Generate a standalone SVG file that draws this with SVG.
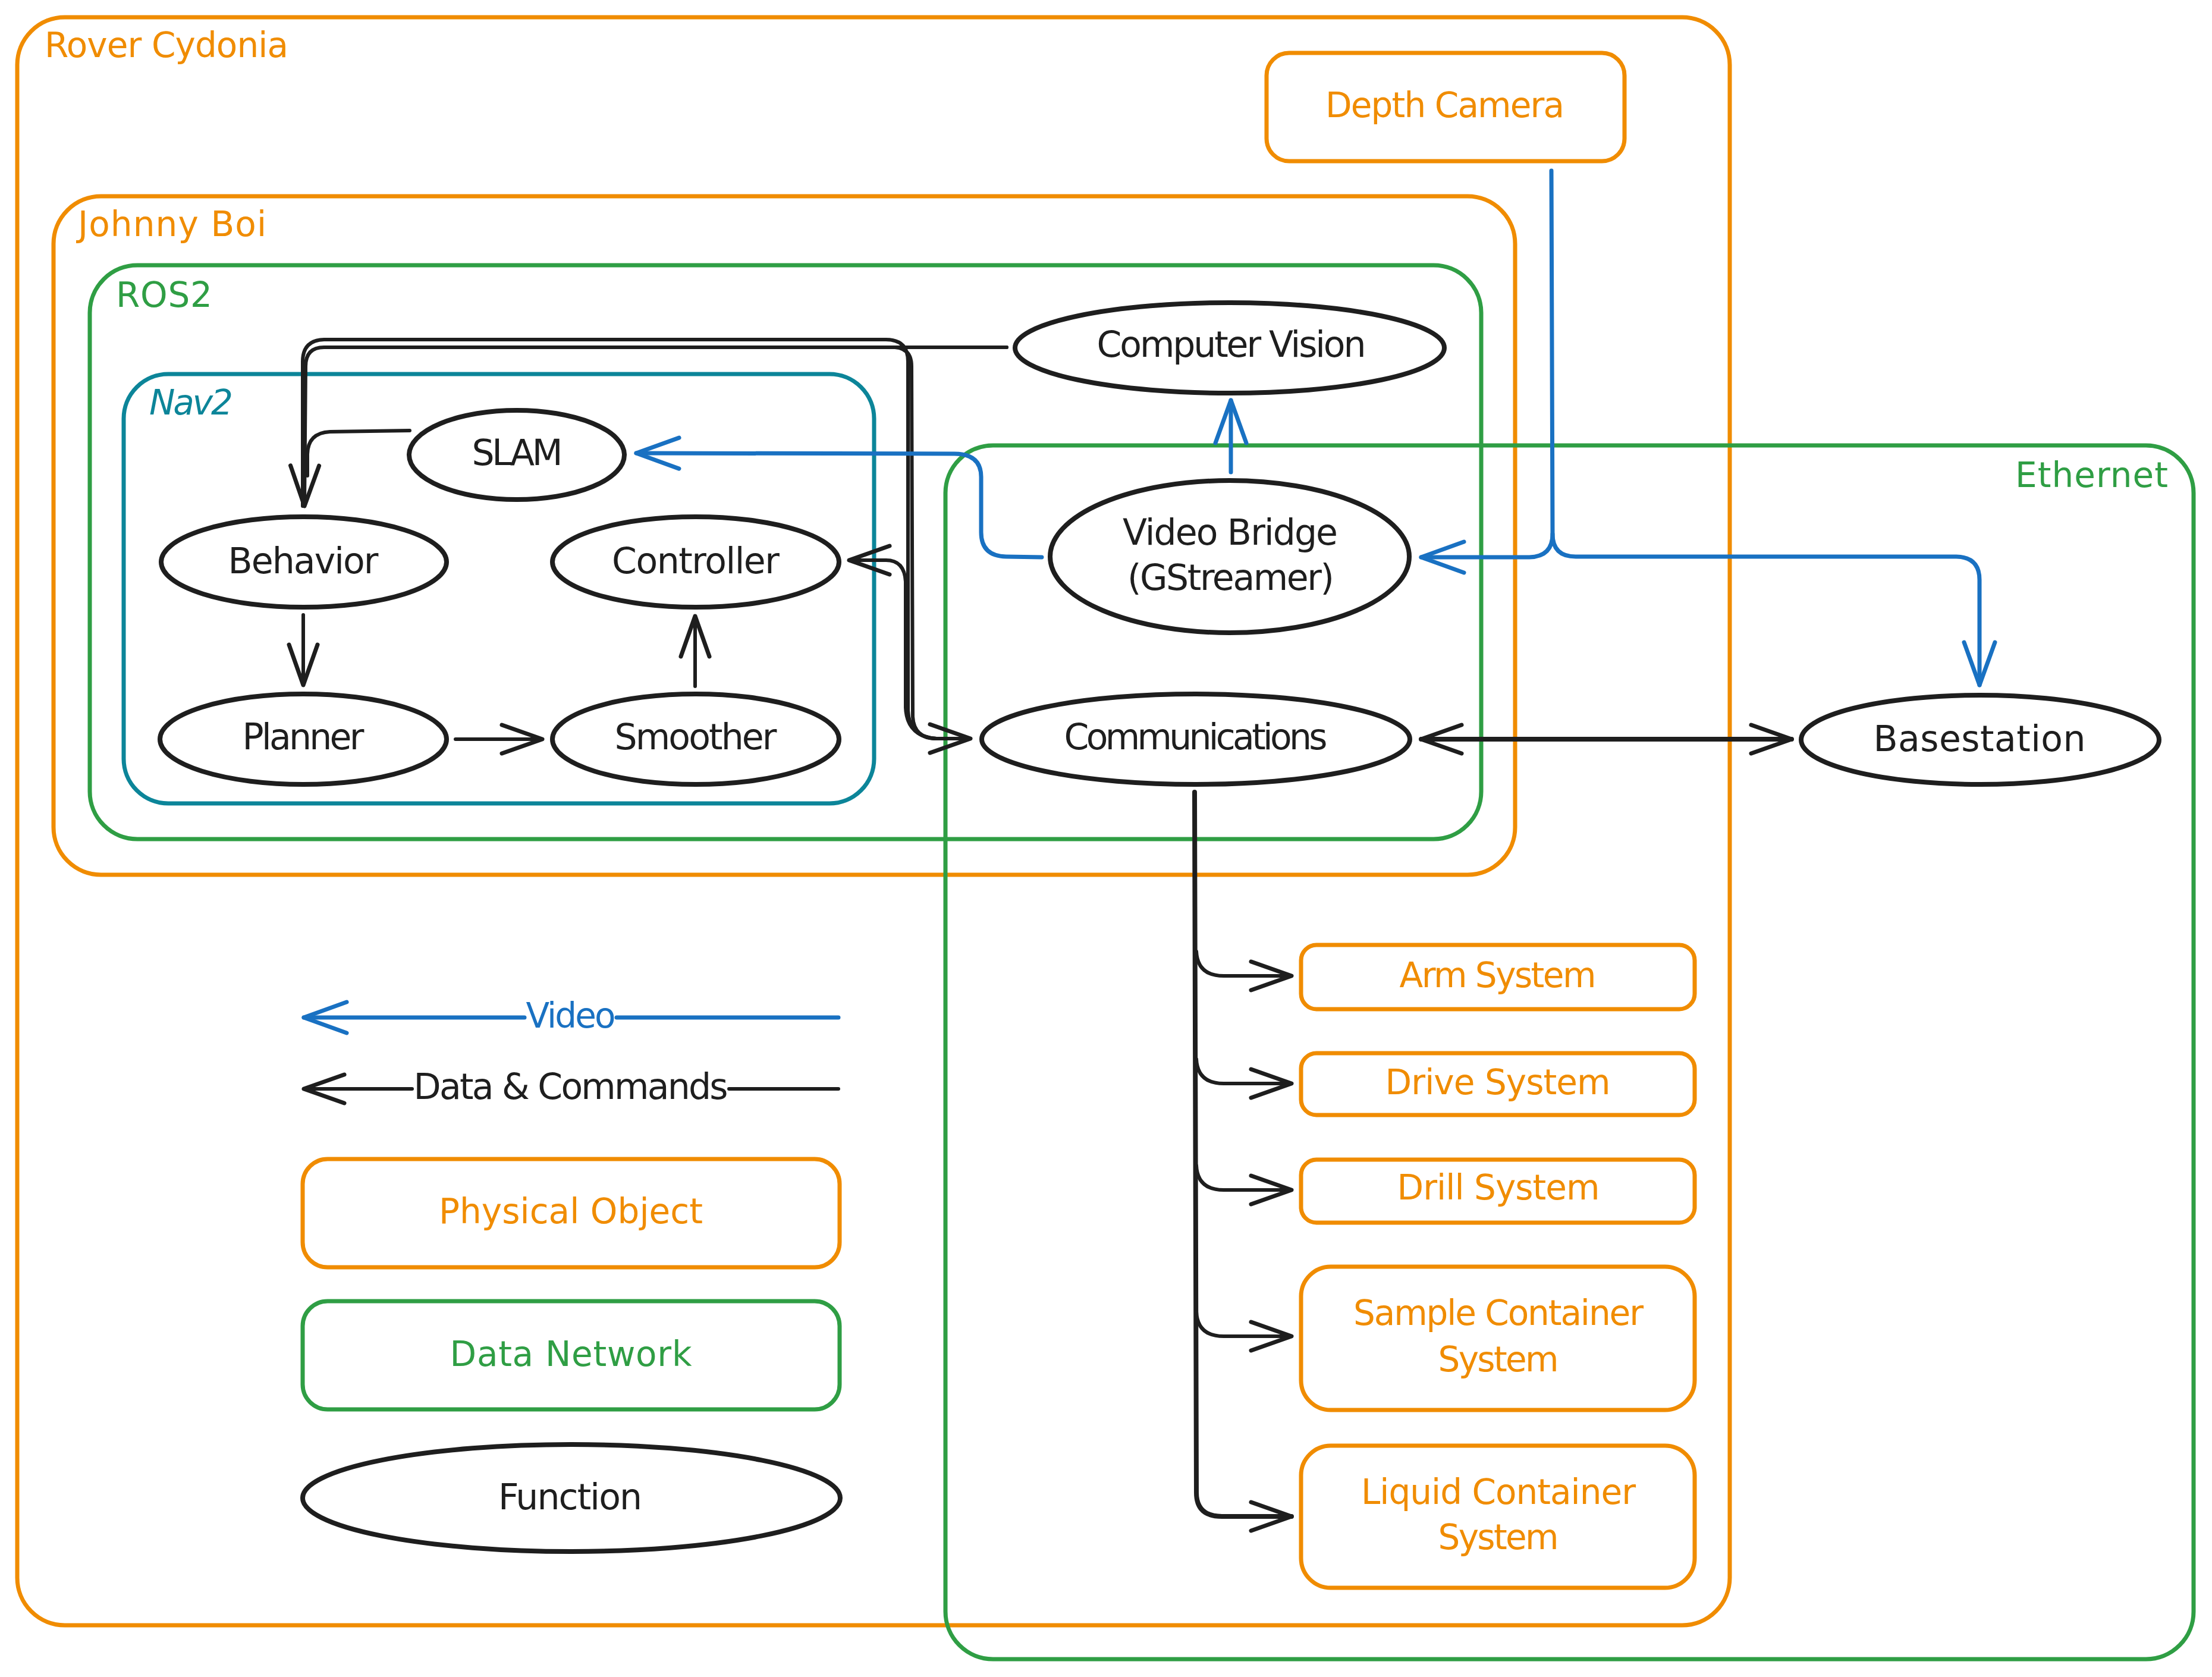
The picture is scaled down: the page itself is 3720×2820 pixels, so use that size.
<svg xmlns="http://www.w3.org/2000/svg" width="3720" height="2820" viewBox="0 0 3720 2820">
<defs>
<style>
.bg{fill:#ffffff}
.box{fill:none;stroke-width:7;stroke-linejoin:round}
.or{stroke:#f08c00}
.gr{stroke:#2f9e44}
.tl{stroke:#0c8599}
.fn{fill:none;stroke:#1e1e1e;stroke-width:8}
.k{fill:none;stroke:#1e1e1e;stroke-width:6;stroke-linecap:round;stroke-linejoin:round}
.kt{fill:none;stroke:#1e1e1e;stroke-width:8;stroke-linecap:round;stroke-linejoin:round}
.b{fill:none;stroke:#1971c2;stroke-width:7;stroke-linecap:round;stroke-linejoin:round}
text{font-family:"DejaVu Sans","Noto Sans",sans-serif}
.t{font-size:60px;fill:#1e1e1e;text-anchor:middle}
.to{font-size:58px;fill:#f08c00;text-anchor:middle}
.tg{font-size:58px;fill:#2f9e44;text-anchor:middle}
.lo{font-size:58px;fill:#f08c00}
.lg{font-size:58px;fill:#2f9e44}
.lt{font-size:58px;fill:#0c8599}
.tb{font-size:58px;fill:#1971c2;text-anchor:middle}
</style>
<marker id="ak" markerUnits="userSpaceOnUse" viewBox="-80 -40 90 80" refX="0" refY="0" markerWidth="90" markerHeight="80" orient="auto-start-reverse" overflow="visible">
<path d="M-68,-24 L0,0 L-68,24" fill="none" stroke="#1e1e1e" stroke-width="7" stroke-linecap="round" stroke-linejoin="round"/>
</marker>
<marker id="ab" markerUnits="userSpaceOnUse" viewBox="-80 -40 90 80" refX="0" refY="0" markerWidth="90" markerHeight="80" orient="auto-start-reverse" overflow="visible">
<path d="M-72,-26 L0,0 L-72,26" fill="none" stroke="#1971c2" stroke-width="7" stroke-linecap="round" stroke-linejoin="round"/>
</marker>
</defs>
<rect class="bg" x="0" y="0" width="3720" height="2820"/>

<g id="rover-cydonia">
<rect class="box or" x="29" y="29" width="2880" height="2704" rx="80"/>
<text class="lo" x="75" y="96" textLength="410">Rover Cydonia</text>
</g>
<g id="johnny-boi">
<rect class="box or" x="90" y="330" width="2458" height="1141" rx="80"/>
<text class="lo" x="131" y="397" textLength="317">Johnny Boi</text>
</g>
<g id="ros2">
<rect class="box gr" x="151" y="446" width="2340" height="965" rx="80"/>
<text class="lg" x="195" y="516" textLength="162">ROS2</text>
</g>
<g id="nav2">
<rect class="box tl" x="208" y="629" width="1262" height="722" rx="75"/>
<text class="lt" x="251" y="697" textLength="141" font-style="italic">Nav2</text>
</g>
<g id="ethernet">
<rect class="box gr" x="1590" y="749" width="2099" height="2041" rx="80"/>
<text class="lg" x="3389" y="819" textLength="257">Ethernet</text>
</g>

<g id="depth-camera">
<rect class="box or" x="2130" y="89" width="602" height="182" rx="38"/>
<text class="to" x="2430" y="197" textLength="402">Depth Camera</text>
</g>
<g id="computer-vision">
<ellipse class="fn" cx="2068" cy="585" rx="361" ry="76"/>
<text class="t" x="2071" y="600" textLength="453">Computer Vision</text>
</g>
<g id="slam">
<ellipse class="fn" cx="869" cy="765" rx="181" ry="75"/>
<text class="t" x="870" y="782" textLength="153">SLAM</text>
</g>
<g id="behavior">
<ellipse class="fn" cx="511" cy="945" rx="240" ry="76"/>
<text class="t" x="510" y="964" textLength="253">Behavior</text>
</g>
<g id="controller">
<ellipse class="fn" cx="1170" cy="945" rx="241" ry="76"/>
<text class="t" x="1170" y="964" textLength="282">Controller</text>
</g>
<g id="planner">
<ellipse class="fn" cx="510" cy="1243" rx="241" ry="76"/>
<text class="t" x="510" y="1260" textLength="205">Planner</text>
</g>
<g id="smoother">
<ellipse class="fn" cx="1170" cy="1243" rx="241" ry="76"/>
<text class="t" x="1170" y="1260" textLength="273">Smoother</text>
</g>
<g id="video-bridge">
<ellipse class="fn" cx="2068" cy="936" rx="302" ry="128"/>
<text class="t" x="2069" y="916" textLength="362">Video Bridge</text>
<text class="t" x="2070" y="992" textLength="348">(GStreamer)</text>
</g>
<g id="communications">
<ellipse class="fn" cx="2011" cy="1243" rx="360" ry="76"/>
<text class="t" x="2011" y="1260" textLength="443">Communications</text>
</g>
<g id="basestation">
<ellipse class="fn" cx="3330" cy="1244" rx="301" ry="75"/>
<text class="t" x="3329" y="1263" textLength="357" font-size="62">Basestation</text>
</g>
<g id="arm-system">
<rect class="box or" x="2188" y="1589" width="662" height="108" rx="26"/>
<text class="to" x="2519" y="1660" textLength="331">Arm System</text>
</g>
<g id="drive-system">
<rect class="box or" x="2188" y="1771" width="662" height="104" rx="26"/>
<text class="to" x="2519" y="1840" textLength="379">Drive System</text>
</g>
<g id="drill-system">
<rect class="box or" x="2188" y="1950" width="662" height="106" rx="26"/>
<text class="to" x="2520" y="2017" textLength="341">Drill System</text>
</g>
<g id="sample-container-system">
<rect class="box or" x="2188" y="2130" width="662" height="241" rx="50"/>
<text class="to" x="2520" y="2228" textLength="488">Sample Container</text>
<text class="to" x="2520" y="2306" textLength="203">System</text>
</g>
<g id="liquid-container-system">
<rect class="box or" x="2188" y="2431" width="662" height="239" rx="50"/>
<text class="to" x="2520" y="2529" textLength="462">Liquid Container</text>
<text class="to" x="2520" y="2605" textLength="203">System</text>
</g>

<g id="legend">
<path class="b" d="M1410,1711 L1037,1711"/>
<path class="b" d="M882,1711 L511,1711" marker-end="url(#ab)"/>
<text class="tb" x="960" y="1728" textLength="151">Video</text>
<path class="k" d="M1410,1831 L1226,1831"/>
<path class="k" d="M693,1831 L511,1831" marker-end="url(#ak)"/>
<text class="t" x="960" y="1848" textLength="529">Data &amp; Commands</text>
<g id="legend-physical-object">
<rect class="box or" x="509" y="1949" width="903" height="182" rx="42"/>
<text class="to" x="960" y="2057" textLength="444">Physical Object</text>
</g>
<g id="legend-data-network">
<rect class="box gr" x="509" y="2188" width="903" height="182" rx="42"/>
<text class="tg" x="960" y="2297" textLength="407">Data Network</text>
</g>
<g id="legend-function">
<ellipse class="fn" cx="961" cy="2519" rx="452" ry="90"/>
<text class="t" x="959" y="2538" textLength="242">Function</text>
</g>
</g>

<g id="connectors">
<path class="k" d="M1693,584 L545,584 Q514,584 514,616 L512,851" marker-end="url(#ak)"/>
<path class="k" d="M1575,1242 Q1529,1240 1527,1195 L1527,608 Q1527,571 1490,571 L545,571 Q509,572 509,608 L509,851"/>
<path class="k" d="M689,724 L555,726 Q517,728 517,765 L517,800"/>
<path class="k" d="M1693,584 L1505,584 Q1533,586 1533,616 L1535,1205 Q1537,1242 1575,1242 L1632,1242" marker-end="url(#ak)"/>
<path class="k" d="M1575,1242 Q1525,1238 1523,1190 L1523,978 Q1521,942 1490,942 L1428,942" marker-end="url(#ak)"/>
<path class="k" d="M510,1034 L510,1152" marker-end="url(#ak)"/>
<path class="k" d="M1169,1154 L1169,1036" marker-end="url(#ak)"/>
<path class="k" d="M766,1243 L912,1243" marker-end="url(#ak)"/>
<path class="kt" d="M2390,1243 L3013,1243" marker-start="url(#ak)" marker-end="url(#ak)"/>
<path class="kt" d="M2009,1332 L2012,2510 Q2012,2550 2055,2550 L2172,2550" marker-end="url(#ak)"/>
<path class="k" d="M2012,1600 Q2014,1641 2058,1641 L2172,1641" marker-end="url(#ak)"/>
<path class="k" d="M2012,1781 Q2014,1822 2058,1822 L2172,1822" marker-end="url(#ak)"/>
<path class="k" d="M2012,1960 Q2014,2001 2058,2001 L2172,2001" marker-end="url(#ak)"/>
<path class="k" d="M2012,2206 Q2014,2247 2058,2247 L2172,2247" marker-end="url(#ak)"/>
<path class="b" d="M2070,794 L2070,673" marker-end="url(#ab)"/>
<path class="b" d="M1752,937 L1692,936 Q1650,935 1650,895 L1650,802 Q1650,763 1605,763 L1070,762" marker-end="url(#ab)"/>
<path class="b" d="M2609,287 L2611,898 Q2611,936 2572,937 L2390,937" marker-end="url(#ab)"/>
<path class="b" d="M2611,898 Q2611,936 2650,936 L3290,936 Q3329,937 3329,975 L3329,1152" marker-end="url(#ab)"/>
</g>
</svg>
